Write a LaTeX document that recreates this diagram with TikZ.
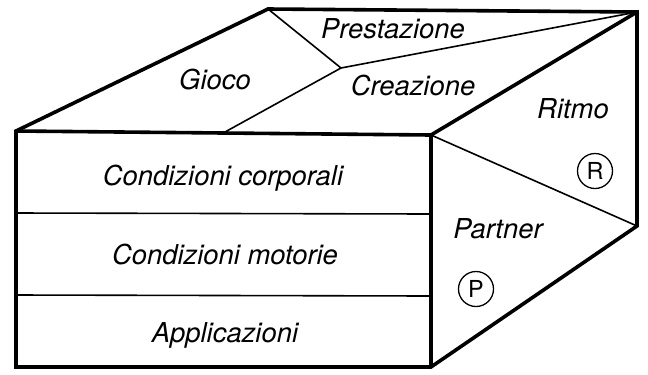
\documentclass[tikz,border=0pt]{standalone}
\usepackage{fontspec}
\setmainfont{TeX Gyre Heros}
\begin{document}
\begin{tikzpicture}[x=1bp,y=-1bp,
  thick line/.style={line width=3.6bp,line join=miter,line cap=butt},
  thin line/.style={line width=1.6bp},
  lab/.style={font=\itshape\fontsize{27.5}{30}\selectfont,inner sep=0pt},
  circ/.style={draw,circle,line width=1.3bp,minimum size=35bp,inner sep=0pt,font=\fontsize{23.5}{25}\selectfont}]
\useasboundingbox (0,0) rectangle (648,374);
% corners
\coordinate (FTL) at (16,131);
\coordinate (FTR) at (431,135);
\coordinate (FBL) at (16,367);
\coordinate (FBR) at (431,367);
\coordinate (BTL) at (268,9);
\coordinate (BTR) at (637,12);
\coordinate (BBR) at (637,226);
% dividers
\coordinate (J) at (341,68);
\coordinate (G) at (225,132);
\coordinate (D1L) at (16,213);
\coordinate (D1R) at (431,214);
\coordinate (D2L) at (16,295);
\coordinate (D2R) at (431,296);
% thin lines
\draw[thin line] (BTL) -- (J) -- (BTR);
\draw[thin line] (J) -- (G);
\draw[thin line] (D1L) -- (D1R);
\draw[thin line] (D2L) -- (D2R);
\draw[thin line] (FTR) -- (BBR);
% thick outline
\draw[thick line] (FTL) -- (BTL) -- (BTR) -- (BBR) -- (FBR) -- (FBL) -- cycle;
\draw[thick line] (FTL) -- (FTR) -- (FBR);
\draw[thick line] (FTR) -- (BTR);
% labels
\node[lab] (gioco) at (215,80) {Gioco};
\node[lab] (prest) at (393,29) {Prestazione};
\node[lab] (crea) at (413,86) {Creazione};
\node[lab] (ritmo) at (573,109) {Ritmo};
\node[lab] (partner) at (498,229) {Partner};
\node[lab] (cc) at (223,178) {Condizioni corporali};
\node[lab] (cm) at (225,255) {Condizioni motorie};
\node[lab] (app) at (225,335) {Applicazioni};
\node[circ] (R) at (595,171) {R};
\node[circ] (P) at (476,289) {P};
\end{tikzpicture}
\end{document}
